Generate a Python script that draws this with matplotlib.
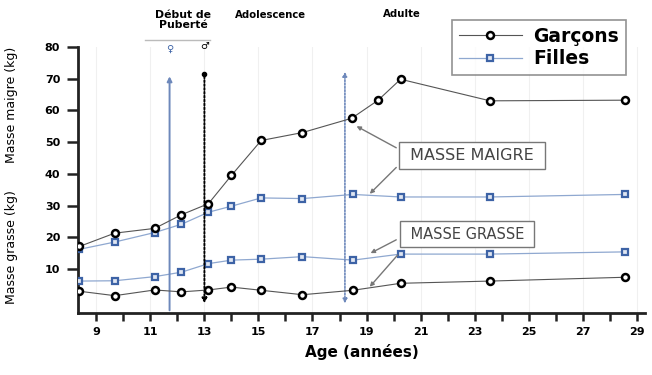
import matplotlib
matplotlib.use("Agg")
import matplotlib.pyplot as plt
from matplotlib.lines import Line2D

# Ages des mesures (années)
age = [8.37, 9.68, 11.16, 12.15, 13.15, 14.0, 15.1, 16.63, 18.45, 19.43, 20.26, 23.57, 28.56]
age_f = [8.37, 9.68, 11.16, 12.15, 13.15, 14.0, 15.1, 16.63, 18.5, 20.26, 23.57, 28.56]

# Masse maigre (kg)
maigre_garcons = [17.1, 21.3, 22.8, 27.1, 30.6, 39.5, 50.5, 53.0, 57.5, 63.2, 69.8, 63.0, 63.2]
maigre_filles = [16.2, 18.5, 21.5, 24.1, 27.9, 29.8, 32.4, 32.2, 33.5, 32.7, 32.7, 33.5]

# Masse grasse (kg)
grasse_garcons = [3.0, 1.6, 3.4, 2.8, 3.4, 4.3, 3.3, 1.9, 3.3, 5.5, 6.2, 7.4]
grasse_filles = [6.2, 6.3, 7.6, 9.0, 11.7, 12.8, 13.1, 13.9, 12.8, 14.7, 14.7, 15.4]

age_puberte_filles = 11.71
age_puberte_garcons = 13.0
age_adulte = 18.2

gris = "#555555"
bleu_ligne = "#8fa8d0"
bleu = "#3d63a6"

fig = plt.figure(figsize=(6.52, 3.75), dpi=100)
ax = fig.add_axes([0.12, 0.165, 0.869, 0.71])

style_g = dict(color=gris, lw=0.8, marker="o", ms=5, mfc="white", mec="black", mew=1.8)
style_f = dict(color=bleu_ligne, lw=0.9, marker="s", ms=5, mfc="#dfe6f2", mec=bleu, mew=1.6)

ax.plot(age, maigre_garcons, zorder=4, **style_g)
ax.plot(age_f, maigre_filles, zorder=3, **style_f)
ax.plot(age_f, grasse_filles, zorder=3, **style_f)
ax.plot(age_f, grasse_garcons, zorder=4, **style_g)

ax.set_xlim(8.33, 29.3)
ax.set_ylim(-3.9, 80)
ax.set_xticks(range(9, 30, 2))
ax.set_xticks(range(10, 30, 2), minor=True)
ax.set_yticks(range(10, 81, 10))
for lab in ax.get_xticklabels() + ax.get_yticklabels():
    lab.set_fontweight("bold")
ax.tick_params(axis="both", labelsize=8, width=1.8, length=6, color="#222222")
ax.tick_params(axis="x", which="minor", width=1.8, length=6, color="#222222")
ax.tick_params(axis="x", pad=4)
ax.tick_params(axis="y", length=8, pad=5)
for s in ["top", "right"]:
    ax.spines[s].set_visible(False)
for s in ["left", "bottom"]:
    ax.spines[s].set_linewidth(2)
    ax.spines[s].set_color("#222222")
ax.grid(axis="x", color="#f0f0f0", lw=0.8)
ax.set_axisbelow(True)

ax.set_xlabel("Age (années)", fontsize=11, fontweight="bold", labelpad=5)
fig.text(0.018, 1 - 105 / 375, "Masse maigre (kg)", rotation=90, ha="center", va="center", fontsize=9)
fig.text(0.018, 1 - 247 / 375, "Masse grasse (kg)", rotation=90, ha="center", va="center", fontsize=9)

# débuts de puberté et âge adulte
ax.annotate("", xy=(age_puberte_filles, 71.6), xytext=(age_puberte_filles, -3.9),
            arrowprops=dict(arrowstyle="-|>", color="#6d88bb", lw=1.4, mutation_scale=7))
ax.annotate("", xy=(age_puberte_garcons, -1.7), xytext=(age_puberte_garcons, 71.6),
            arrowprops=dict(arrowstyle="-|>", color="black", lw=1.4, ls=(0, (1, 1)), mutation_scale=7))
ax.plot([age_puberte_garcons], [71.6], marker="o", ms=3, color="black", clip_on=False)
ax.annotate("", xy=(age_adulte, 73), xytext=(age_adulte, -1.7),
            arrowprops=dict(arrowstyle="<|-|>", color="#6d88bb", lw=1.2, ls=(0, (1, 1)), mutation_scale=6))
ax.text(age_puberte_filles, 79.5, "♀", color=bleu, fontsize=7, ha="center", va="center")
ax.text(age_puberte_garcons, 80.3, "♂", color="black", fontsize=7, ha="center", va="center")

fig.text(183 / 652, 1 - 20 / 375, "Début de\nPuberté", ha="center", va="center",
         fontsize=7.8, fontweight="bold", linespacing=0.95)
fig.add_artist(Line2D([145 / 652, 210 / 652], [1 - 40 / 375] * 2, color="#bbbbbb", lw=1))
fig.text(270 / 652, 1 - 15 / 375, "Adolescence", ha="center", va="center", fontsize=7.3, fontweight="bold")
fig.text(402 / 652, 1 - 14 / 375, "Adulte", ha="center", va="center", fontsize=7.3, fontweight="bold")

# étiquettes MASSE MAIGRE / MASSE GRASSE
boite = dict(boxstyle="square,pad=0.38", fc="white", ec="#777777", lw=1)
ax.text(22.89, 45.9, " MASSE MAIGRE ", ha="center", va="center", fontsize=11.5, color="#444444", bbox=boite)
ax.text(22.72, 20.9, " MASSE GRASSE ", ha="center", va="center", fontsize=10.5, color="#444444", bbox=boite)

fleche = dict(arrowstyle="-|>", color="#777777", lw=1, mutation_scale=6, shrinkA=0, shrinkB=0)
ax.annotate("", xy=(18.63, 55.0), xytext=(20.1, 48.2), arrowprops=fleche)
ax.annotate("", xy=(19.12, 33.7), xytext=(20.1, 42.0), arrowprops=fleche)
ax.annotate("", xy=(19.15, 15.0), xytext=(20.1, 19.2), arrowprops=fleche)
ax.annotate("", xy=(19.12, 4.4), xytext=(20.15, 14.4), arrowprops=fleche)

# légende
poignees = [Line2D([], [], **style_g), Line2D([], [], **style_f)]
leg = fig.legend(poignees, ["Garçons", "Filles"], loc="upper left",
                 bbox_to_anchor=(452 / 652, 1 - 20 / 375), fancybox=False,
                 prop=dict(size=13.5, weight="bold"), handlelength=3.4,
                 borderpad=0.35, labelspacing=0.2, handletextpad=0.6, borderaxespad=0)
leg.get_frame().set_edgecolor("#777777")
leg.get_frame().set_linewidth(1.2)

plt.savefig("out.png", dpi=100)
